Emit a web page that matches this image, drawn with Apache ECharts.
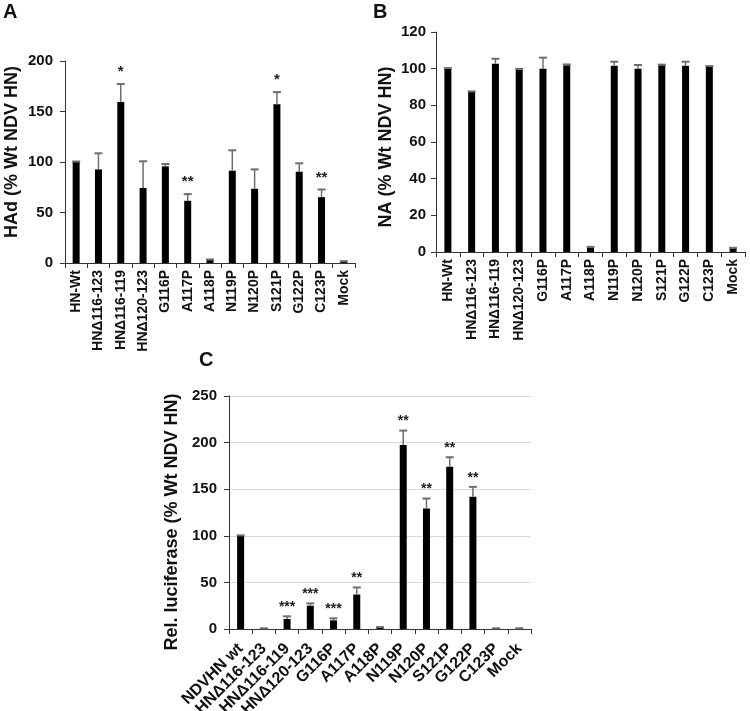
<!DOCTYPE html>
<html>
<head>
<meta charset="utf-8">
<script src="https://cdn.jsdelivr.net/npm/echarts@6/dist/echarts.min.js"></script>
<style>
html,body{margin:0;padding:0;background:#fff;}
#chart{width:750px;height:711px;}
</style>
</head>
<body>
<div id="chart"></div>
<script>
// ---- Data ----
const categoriesAB = ['HN-Wt','HNΔ116-123','HNΔ116-119','HNΔ120-123','G116P','A117P','A118P','N119P','N120P','S121P','G122P','C123P','Mock'];
const categoriesC = ['NDVHN wt','HNΔ116-123','HNΔ116-119','HNΔ120-123','G116P','A117P','A118P','N119P','N120P','S121P','G122P','C123P','Mock'];

const hadValues = [100, 92.7, 159.3, 74.2, 95.7, 61.6, 3, 91.4, 73.5, 157.3, 90.4, 65.2, 1.5];
const hadErrors = [0.5, 15.9, 17.9, 26.5, 2.3, 6.6, 0.5, 20.2, 19.2, 11.9, 8.3, 7.6, 0.3];
const hadSig = ['', '', '*', '', '', '**', '', '', '', '*', '', '**', ''];

const naValues = [100, 87.3, 102.7, 99.6, 100, 101.8, 2.5, 101.6, 100, 101.8, 101.6, 101.1, 2];
const naErrors = [0.3, 0.3, 2.7, 0.3, 6, 0.5, 0.3, 2.2, 2, 0.4, 2.2, 0.3, 0.3];
const naSig = ['', '', '', '', '', '', '', '', '', '', '', '', ''];

const lucValues = [100, 0.5, 10.7, 25, 9.3, 37, 1.5, 197.5, 129.3, 174, 141.8, 0.5, 0.5];
const lucErrors = [0.5, 0.3, 2.9, 2.5, 2.1, 7.6, 0.5, 15.4, 10.7, 10.3, 10.7, 0.3, 0.3];
const lucSig = ['', '', '***', '***', '***', '**', '', '**', '**', '**', '**', '', ''];

const yTicksA = {min: 0, max: 200, interval: 50};
const yTicksB = {min: 0, max: 120, interval: 20};
const yTicksC = {min: 0, max: 250, interval: 50};

// ---- Styling ----
const FONT = "'Liberation Sans', Arial, sans-serif";
const AXIS_COLOR = '#333';

function xAxisCfg(idx, cats, rotate, fontSize, margin) {
  return {
    type: 'category', gridIndex: idx, data: cats,
    axisLine: {lineStyle: {color: AXIS_COLOR, width: 1}},
    axisTick: {show: true, length: 5, interval: 0, lineStyle: {color: AXIS_COLOR}},
    axisLabel: {interval: 0, rotate: rotate, margin: margin, color: '#111',
      fontFamily: FONT, fontWeight: 'bold', fontSize: fontSize}
  };
}
function yAxisCfg(idx, ticks, grid, margin) {
  return {
    type: 'value', gridIndex: idx, min: ticks.min, max: ticks.max, interval: ticks.interval,
    axisLine: {show: true, lineStyle: {color: AXIS_COLOR, width: 1}},
    axisTick: {show: true, length: 5, lineStyle: {color: AXIS_COLOR}},
    splitLine: {show: grid, lineStyle: {color: '#d9d9d9', width: 1}},
    axisLabel: {margin: margin, color: '#111', fontFamily: FONT, fontWeight: 'bold', fontSize: 15}
  };
}
function barSeries(idx, values) {
  return {type: 'bar', xAxisIndex: idx, yAxisIndex: idx, data: values, barWidth: 7,
    itemStyle: {color: '#000'}, silent: true, z: 2};
}
function errSeries(idx, values, errors, sig, starOffset, starSize) {
  return {
    type: 'custom', xAxisIndex: idx, yAxisIndex: idx, z: 3, silent: true,
    data: values.map((v, k) => [k, v, v + errors[k]]),
    renderItem: function (params, api) {
      const k = api.value(0);
      const lo = api.coord([k, api.value(1)]);
      const hi = api.coord([k, api.value(2)]);
      const hw = 4;
      const children = [
        {type: 'line', shape: {x1: lo[0], y1: lo[1], x2: hi[0], y2: hi[1]}, style: {stroke: '#6e6e6e', lineWidth: 1.5}},
        {type: 'line', shape: {x1: hi[0] - hw, y1: hi[1], x2: hi[0] + hw, y2: hi[1]}, style: {stroke: '#6e6e6e', lineWidth: 2}}
      ];
      const s = sig[params.dataIndex];
      if (s) {
        children.push({type: 'text', style: {text: s, x: hi[0], y: hi[1] - starOffset,
          align: 'center', verticalAlign: 'middle', fill: '#222',
          font: 'bold ' + starSize + 'px ' + FONT}});
      }
      return {type: 'group', children: children};
    }
  };
}
function label(text, x, y, size) {
  return {type: 'text', left: x, top: y, style: {text: text, fill: '#111', font: 'bold ' + size + 'px ' + FONT}};
}
function yTitle(text, cx, cy, size) {
  return {type: 'text', x: cx, y: cy, rotation: Math.PI / 2,
    style: {text: text, align: 'center', verticalAlign: 'middle', fill: '#111', font: 'bold ' + size + 'px ' + FONT}};
}

const chart = echarts.init(document.getElementById('chart'), null, {renderer: 'canvas'});
chart.setOption({
  animation: false,
  backgroundColor: '#fff',
  grid: [
    {left: 65, top: 61, width: 290, height: 202, containLabel: false, outerBoundsMode: 'none'},
    {left: 436, top: 32, width: 309, height: 220, containLabel: false, outerBoundsMode: 'none'},
    {left: 229, top: 396, width: 302, height: 233, containLabel: false, outerBoundsMode: 'none'}
  ],
  xAxis: [
    xAxisCfg(0, categoriesAB, 90, 14, 7),
    xAxisCfg(1, categoriesAB, 90, 14, 7),
    xAxisCfg(2, categoriesC, 45, 16, 17)
  ],
  yAxis: [
    yAxisCfg(0, yTicksA, false, 12),
    yAxisCfg(1, yTicksB, false, 10),
    yAxisCfg(2, yTicksC, true, 12)
  ],
  series: [
    barSeries(0, hadValues), errSeries(0, hadValues, hadErrors, hadSig, 12, 15),
    barSeries(1, naValues), errSeries(1, naValues, naErrors, naSig, 12, 15),
    barSeries(2, lucValues), errSeries(2, lucValues, lucErrors, lucSig, 9, 14)
  ],
  graphic: [
    label('A', 3, 2, 20),
    label('B', 373, 2, 20),
    label('C', 199, 350, 20),
    yTitle('HAd (% Wt NDV HN)', 12, 152, 18),
    yTitle('NA (% Wt NDV HN)', 386, 147, 18),
    yTitle('Rel. luciferase (% Wt NDV HN)', 172, 522, 18)
  ]
});
</script>
</body>
</html>
